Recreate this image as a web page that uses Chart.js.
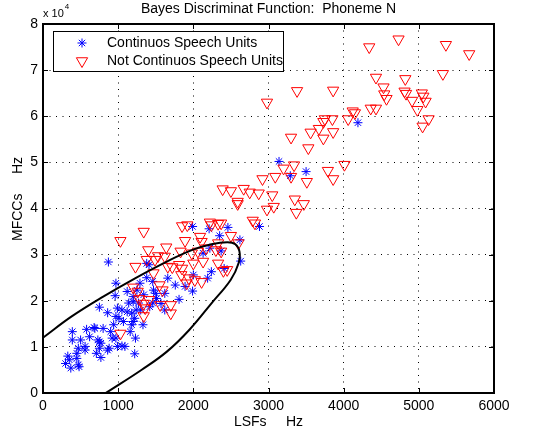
<!DOCTYPE html>
<html>
<head>
<meta charset="utf-8">
<script src="https://cdn.jsdelivr.net/npm/chart.js@4"></script>
<style>
  html, body { margin: 0; padding: 0; background: #fff; }
</style>
</head>
<body>
<canvas id="chart" width="543" height="436"></canvas>
<script>
// Continuos speech units (blue stars)
const contX = [3140, 3290, 3500, 4190, 2880, 2460, 2620, 2630, 1990, 2210, 2350, 2220, 2370, 2410, 1380, 870, 970, 960,
  2130, 1380, 1660, 1760, 1890, 2190, 2000, 1990, 1810, 1620, 2240, 1250, 1340, 1470, 1510, 1420, 1570, 1300, 1620,
  750, 860, 1140, 1120, 1180, 970, 940, 1070, 580, 390, 690, 800, 900, 1160, 1230, 390, 500, 620, 750, 920, 1050,
  880, 750, 470, 560, 710, 770, 1220, 330, 350, 450, 470, 370, 300, 1410, 1460, 1290, 1120, 1500, 1200, 1460, 990,
  1050, 1200, 1330, 1200, 1270, 1010, 1220, 1180, 1240, 680, 970, 730, 770, 990, 860, 560, 450, 480, 1090];
const contY = [50200, 47100, 48000, 58600, 36100, 35900, 33200, 28600, 36100, 35600, 34100, 31400, 30800, 27000, 25000, 28400, 23800, 21100,
  30300, 28100, 24900, 23400, 23100, 24900, 25600, 22100, 20300, 21600, 26300, 22300, 21300, 22300, 20500, 18700, 19400, 18000, 18000,
  18600, 17400, 19500, 17600, 17300, 16600, 14800, 15500, 13800, 13300, 14000, 14000, 13300, 13300, 11900, 11500, 11500, 12200, 11100, 11900, 10200,
  9700, 9700, 9700, 10100, 8600, 7700, 8500, 8000, 7200, 7500, 6100, 5400, 6400, 27800, 24200, 23800, 22000, 21600, 20900, 19500, 18400,
  18000, 15500, 14800, 19800, 19500, 16200, 16200, 14800, 18000, 14200, 11900, 11500, 10800, 10100, 9300, 9300, 8600, 5700, 10100];

// Not continuos speech units (red triangles)
const notContX = [4340, 4730, 5360, 5670, 5320, 4430, 4820, 3860, 3380, 2980, 4530, 4540, 4570, 4810, 4830, 4910, 5040, 5060, 5090,
  4980, 4360, 4430, 4120, 4150, 4060, 5130, 5050, 3850, 3750, 3730, 3670, 3730, 3860, 3560, 3300, 3530, 4010, 3790, 3860,
  3510, 3340, 3200, 3300, 3090, 2920, 2670, 2750, 2870, 3050, 3070, 2980, 3350, 3470, 3370, 2790, 2820,
  2390, 2500, 2590, 2590, 2370, 2500, 2600, 1340, 1030, 1850, 1920, 2220, 2330, 2240, 2090, 2110, 1890, 1640, 1400,
  1530, 1620, 1490, 1830, 1980, 2060, 2170, 2330, 2300, 2370, 1810, 1850, 1660, 1720, 2000, 2130, 2330, 2400, 2450,
  1380, 1230, 1470, 1840, 1940, 2020, 2110, 1910, 1550, 1590, 1260, 1280, 1340, 1360, 1340, 1700, 1700, 1200, 1410,
  1560, 1030];
const notContY = [75000, 76700, 75500, 73500, 69200, 68400, 68100, 65600, 65500, 63000, 66300, 64800, 63800, 65400, 64900, 63400, 65000, 64300, 63200,
  61400, 61700, 61700, 61100, 60700, 59400, 59400, 57800, 59400, 59400, 58800, 57300, 55200, 56600, 56500, 55400, 53100, 49500, 48200, 46400,
  45800, 49400, 48700, 46900, 46900, 46400, 44300, 43500, 43300, 42900, 40400, 39800, 42000, 41000, 39100, 37400, 36800,
  44200, 43800, 41500, 41000, 36800, 34100, 32500, 35000, 33000, 36200, 36400, 37000, 36700, 36400, 33900, 32800, 33000, 31600, 31000,
  29700, 29600, 28900, 30700, 30300, 30700, 31400, 32500, 31000, 30700, 27800, 27000, 27400, 27300, 28100, 28500, 28100, 26500, 26700,
  28900, 27400, 26000, 25600, 24900, 24500, 24100, 23800, 23400, 22300, 22000, 20400, 19400, 18400, 16700, 19100, 17300, 22900, 20200,
  19100, 12900];

// Discriminant boundary
const boundaryX = [-300, 17, 377, 801, 1225, 1648, 1987, 2241, 2453, 2559, 2614, 2602, 2496, 2241, 1945, 1648, 1309, 843, 650];
const boundaryY = [8400, 12200, 16560, 20900, 24870, 28490, 31020, 32250, 32680, 32250, 30660, 28130, 24510, 19450, 13670, 8970, 4990, 70, -2000];

const xTicks = [0, 1000, 2000, 3000, 4000, 5000, 6000];
const yTicks = [0, 10000, 20000, 30000, 40000, 50000, 60000, 70000, 80000];

const chartTitle = 'Bayes Discriminat Function:  Phoneme N';
const seriesNames = ['Continuos Speech Units', 'Not Continuos Speech Units'];
const xTitle = 'LSFs     Hz';
const yTitle = 'MFCCs     Hz';

const fontFamily = '"Liberation Sans", Arial, Helvetica, sans-serif';
Chart.defaults.font.family = fontFamily;
Chart.defaults.font.size = 14;
Chart.defaults.color = '#000';

const toPoints = (xs, ys) => xs.map((x, i) => ({ x: x, y: ys[i] }));

// box round the axes with inward tick marks, like matlab
const axesBox = {
  id: 'axesBox',
  beforeDatasetsDraw(chart) {
    const { ctx, chartArea: a, scales } = chart;
    const len = 5;
    ctx.save();
    ctx.strokeStyle = '#000';
    ctx.lineWidth = 1;
    ctx.beginPath();
    xTicks.forEach(v => {
      const px = Math.round(scales.x.getPixelForValue(v)) + 0.5;
      ctx.moveTo(px, a.bottom); ctx.lineTo(px, a.bottom - len);
      ctx.moveTo(px, a.top); ctx.lineTo(px, a.top + len);
    });
    yTicks.forEach(v => {
      const py = Math.round(scales.y.getPixelForValue(v)) + 0.5;
      ctx.moveTo(a.left, py); ctx.lineTo(a.left + len, py);
      ctx.moveTo(a.right, py); ctx.lineTo(a.right - len, py);
    });
    ctx.stroke();
    ctx.lineWidth = 2;
    ctx.strokeRect(a.left, a.top, a.right - a.left, a.bottom - a.top);
    ctx.restore();
  }
};

const boxLegend = {
  id: 'boxLegend',
  afterDatasetsDraw(chart) {
    const { ctx, chartArea: a } = chart;
    const x0 = a.left + 10, y0 = a.top + 7, w = 230, h = 40;
    ctx.save();
    ctx.fillStyle = '#fff';
    ctx.fillRect(x0, y0, w, h);
    ctx.strokeStyle = '#000';
    ctx.lineWidth = 1;
    ctx.strokeRect(x0 + 0.5, y0 + 0.5, w, h);
    ctx.font = '14px ' + fontFamily;
    ctx.textBaseline = 'middle';
    chart.data.datasets.slice(1).forEach((ds, i) => {
      const cy = y0 + 12 + i * 18;
      ctx.strokeStyle = ds.borderColor;
      ctx.fillStyle = 'rgba(0,0,0,0)';
      ctx.lineWidth = 1;
      Chart.helpers.drawPoint(ctx, {
        pointStyle: ds.pointStyle, radius: ds.pointRadius,
        rotation: ds.pointRotation || 0, borderWidth: 1
      }, x0 + 29, cy);
      ctx.fillStyle = '#000';
      ctx.fillText(ds.label, x0 + 54, cy);
    });
    ctx.restore();
  },
  afterDraw(chart) {
    const { ctx, chartArea: a } = chart;
    ctx.save();
    ctx.fillStyle = '#000';
    ctx.font = '14px ' + fontFamily;
    ctx.textAlign = 'center';
    ctx.textBaseline = 'middle';
    ctx.fillText(chartTitle, (a.left + a.right) / 2, 9);
    // y label sits a bit above the middle of the axis in the original
    ctx.save();
    ctx.translate(18, 199);
    ctx.rotate(-Math.PI / 2);
    ctx.fillText(yTitle, 0, 0);
    ctx.restore();
    // exponent label above the y axis
    ctx.textAlign = 'left';
    ctx.textBaseline = 'alphabetic';
    ctx.font = '11px ' + fontFamily;
    ctx.fillText('x 10', a.left, 17);
    const wx = ctx.measureText('x 10').width;
    ctx.font = '8px ' + fontFamily;
    ctx.fillText('4', a.left + wx + 1, 9);
    ctx.restore();
  }
};

new Chart(document.getElementById('chart'), {
  type: 'scatter',
  data: {
    datasets: [
      {
        label: 'boundary',
        data: toPoints(boundaryX, boundaryY),
        showLine: true,
        pointRadius: 0,
        borderColor: '#000',
        borderWidth: 2,
        tension: 0.4,
        fill: false,
        order: 0
      },
      {
        label: seriesNames[0],
        data: toPoints(contX, contY),
        pointStyle: 'star',
        pointRadius: 4.5,
        borderColor: '#0000ff',
        backgroundColor: 'rgba(0,0,0,0)',
        borderWidth: 1,
        order: 2
      },
      {
        label: seriesNames[1],
        data: toPoints(notContX, notContY),
        pointStyle: 'triangle',
        pointRotation: 180,
        pointRadius: 6.5,
        borderColor: '#ff0000',
        backgroundColor: 'rgba(0,0,0,0)',
        borderWidth: 1,
        order: 1
      }
    ]
  },
  options: {
    responsive: false,
    animation: false,
    devicePixelRatio: 1,
    layout: { padding: { left: 0, right: 49, top: 24, bottom: 0 } },
    plugins: {
      legend: { display: false },
      tooltip: { enabled: false },
      title: { display: false }
    },
    scales: {
      x: {
        type: 'linear',
        min: 0,
        max: 6000,
        afterBuildTicks: s => { s.ticks = xTicks.map(v => ({ value: v })); },
        afterFit: s => { s.height = 43; },
        ticks: { padding: 5, maxRotation: 0, callback: v => String(v), font: { size: 14 } },
        grid: { color: '#000', lineWidth: 1, drawTicks: false },
        border: { display: false, dash: [1, 5.5] },
        title: { display: true, text: xTitle, padding: { top: 0, bottom: 5 }, font: { size: 14 } }
      },
      y: {
        type: 'linear',
        min: 0,
        max: 80000,
        afterBuildTicks: s => { s.ticks = yTicks.map(v => ({ value: v })); },
        afterFit: s => { s.width = 43; },
        ticks: { padding: 5, callback: v => String(v / 10000), font: { size: 14 } },
        grid: { color: '#000', lineWidth: 1, drawTicks: false },
        border: { display: false, dash: [1, 5.5] },
        title: { display: false }
      }
    }
  },
  plugins: [axesBox, boxLegend]
});
</script>
</body>
</html>
